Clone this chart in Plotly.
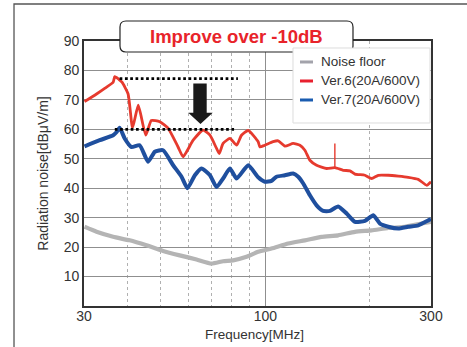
import plotly.graph_objects as go

# Noise floor (gray)
floor_freq = [30.1, 32.6, 36.4, 40.6, 45.4, 50.7, 56.6, 63.3, 69.9, 75.5, 80.7, 88.2, 95.3,
              104.1, 116.3, 129.9, 145.1, 162.0, 181.1, 202.3, 226.0, 252.4, 282.1, 300.0]
floor_db = [26.9, 25.2, 23.5, 22.3, 20.6, 18.7, 17.2, 15.8, 14.4, 15.2, 15.5, 16.7, 18.4,
            19.5, 21.2, 22.3, 23.5, 24.0, 25.2, 25.7, 26.5, 26.9, 28.0, 28.6]

# Ver.6 (red)
v6_freq = [30.1, 32.6, 34.5, 36.4, 36.8, 37.8, 38.6, 40.2, 41.4, 43.0, 45.2, 46.9, 49.6,
           52.4, 56.0, 57.9, 61.9, 66.1, 69.2, 72.3, 73.6, 75.5, 79.0, 82.6, 85.3, 89.2,
           95.3, 96.4, 99.6, 105.2, 108.8, 113.8, 120.2, 125.7, 129.9, 134.3, 140.4, 150.1,
           158.5, 167.6, 175.2, 181.1, 193.5, 202.3, 211.4, 226.0, 241.5,
           258.0, 275.7, 291.6, 300.0]
v6_db = [69.4, 72.0, 74.0, 76.0, 77.9, 77.0, 76.0, 72.0, 60.5, 68.2, 58.0, 63.0, 62.6,
         60.4, 54.0, 50.7, 56.3, 59.7, 58.0, 53.5, 51.8, 55.2, 56.9, 54.6, 58.0, 59.6,
         55.8, 54.0, 54.6, 55.8, 56.1, 54.3, 55.2, 54.6, 52.9, 49.5, 47.8, 46.7,
         47.0, 46.1, 45.9, 44.8, 44.4, 43.3, 44.4, 44.4, 44.1,
         43.7, 43.0, 41.0, 42.2]
# narrow spike on Ver.6
v6_spike_freq = [158.5, 158.5]
v6_spike_db = [47.0, 55.2]

# Ver.7 (blue)
v7_freq = [30.1, 33.3, 36.4, 37.2, 38.0, 39.3, 41.1, 43.4, 45.9, 48.0, 50.7, 54.2, 57.3,
           59.6, 62.6, 65.4, 69.2, 72.3, 75.5, 79.0, 82.6, 89.2, 95.3, 99.6, 104.1, 107.6,
           113.8, 120.2, 124.3, 128.5, 134.3, 140.4, 146.7, 153.4, 162.0, 171.4, 181.1,
           193.5, 204.5, 213.8, 226.0, 241.5, 258.0, 275.7, 294.7, 300.0]
v7_db = [54.2, 56.3, 58.0, 59.0, 60.5, 56.9, 54.0, 54.6, 49.0, 52.4, 52.9, 47.8, 43.9,
         40.0, 44.4, 46.7, 44.4, 40.4, 43.3, 46.7, 43.3, 47.8, 43.7, 42.2, 42.5, 43.9,
         44.4, 45.0, 43.9, 41.6, 37.6, 34.2, 32.3, 32.3, 33.8, 31.4, 28.6,
         28.9, 30.8, 28.0, 26.9, 26.3, 26.9, 27.4, 29.1, 29.5]

series_names = ["Noise floor", "Ver.6(20A/600V)", "Ver.7(20A/600V)"]
series_colors = ["#b4b4b4", "#e63a2e", "#1f4f9e"]
legend_colors = ["#a3a3ab", "#e8202e", "#1a5cb0"]

# Dotted reference levels (peak of Ver.6 / Ver.7)
ref_levels = [77.2, 60.0]
ref_start = [38.0, 36.8]
ref_end = [83.3, 81.2]

x_ticks = [30, 100, 300]
x_minor = [40, 50, 60, 70, 80, 90, 200]
y_ticks = [10, 20, 30, 40, 50, 60, 70, 80, 90]

FONT = "Arial, Liberation Sans, sans-serif"

fig = go.Figure()

widths = [4.2, 2.8, 4.0]
for name, fx, fy, color, w in zip(series_names,
                                  [floor_freq, v6_freq, v7_freq],
                                  [floor_db, v6_db, v7_db],
                                  series_colors, widths):
    fig.add_trace(go.Scatter(x=fx, y=fy, mode="lines", name=name, showlegend=False,
                             line=dict(color=color, width=w, shape="spline", smoothing=0.5)))
fig.add_trace(go.Scatter(x=v6_spike_freq, y=v6_spike_db, mode="lines", showlegend=False,
                         line=dict(color=series_colors[1], width=1.4)))

shapes = []
# dotted reference lines
for lvl, x0, x1 in zip(ref_levels, ref_start, ref_end):
    shapes.append(dict(type="line", xref="x", yref="y", x0=x0, x1=x1, y0=lvl, y1=lvl,
                       line=dict(color="black", width=2.7, dash="2.7px,2.6px"), layer="above"))

# down arrow (paper coords)
shapes.append(dict(type="path", xref="paper", yref="paper", fillcolor="#1a1a1a",
                   line=dict(color="#1a1a1a", width=0),
                   path="M 0.315 0.840 L 0.3536 0.840 L 0.3536 0.7294 L 0.3709 0.7294 "
                        "L 0.3357 0.6868 L 0.3006 0.7294 L 0.315 0.7294 Z"))

# outer frame (top + left)
shapes.append(dict(type="path", xref="paper", yref="paper",
                   path="M -0.2017 -0.2 L -0.2017 1.1396 L 1.2 1.1396",
                   line=dict(color="#555555", width=1.3)))

# title box with rounded corners
x0, x1, y0, y1 = 0.1037, 0.7752, 0.9585, 1.0755
rx, ry = 0.0173, 0.0226
shapes.append(dict(
    type="path", xref="paper", yref="paper", fillcolor="white",
    line=dict(color="#222222", width=1.2), layer="above",
    path=(f"M {x0+rx} {y1} L {x1-rx} {y1} Q {x1} {y1} {x1} {y1-ry} "
          f"L {x1} {y0+ry} Q {x1} {y0} {x1-rx} {y0} L {x0+rx} {y0} "
          f"Q {x0} {y0} {x0} {y0+ry} L {x0} {y1-ry} Q {x0} {y1} {x0+rx} {y1} Z")))

# legend box
shapes.append(dict(type="rect", xref="paper", yref="paper", x0=0.6023, x1=0.9971,
                   y0=0.6906, y1=0.9736, fillcolor="white",
                   line=dict(color="#dddddd", width=1), layer="above"))

annotations = [
    dict(text="Improve over -10dB", xref="paper", yref="paper", x=0.4395, y=1.017,
         showarrow=False, xanchor="center", yanchor="middle",
         font=dict(family=FONT, size=18.5, color="#e8232a", weight="bold")),
    # x-axis title placed by hand so it does not push the bottom margin
    dict(text="Frequency[MHz]", xref="paper", yref="paper", x=0.49, y=-0.1057,
         showarrow=False, xanchor="center", yanchor="middle",
         font=dict(family=FONT, size=13.5, color="#333333")),
]

row_y = [0.9208, 0.8491, 0.7774]
for name, color, ry_ in zip(series_names, legend_colors, row_y):
    shapes.append(dict(type="line", xref="paper", yref="paper", x0=0.6225, x1=0.66,
                       y0=ry_, y1=ry_, line=dict(color=color, width=3), layer="above"))
    annotations.append(dict(text=name, xref="paper", yref="paper", x=0.6772, y=ry_,
                            showarrow=False, xanchor="left", yanchor="middle",
                            font=dict(family=FONT, size=13.5, color="#333333")))

fig.update_layout(
    width=467, height=347,
    margin=dict(l=84, r=36, t=41, b=41),
    paper_bgcolor="white", plot_bgcolor="white",
    font=dict(family=FONT, color="#333333"),
    shapes=shapes, annotations=annotations,
)

fig.update_xaxes(
    type="log", range=[1.4771, 2.4771],
    tickvals=x_ticks, ticktext=[str(v) for v in x_ticks],
    tickfont=dict(size=14, color="#333333"), ticks="", ticklabelstandoff=-4,
    showgrid=True, gridcolor="#8f8f8f", gridwidth=1,
    minor=dict(tickvals=x_minor, showgrid=True, gridcolor="#b0b0b0", griddash="dot", gridwidth=1),
    showline=True, linecolor="#333333", linewidth=1.6, mirror=True,
    automargin=False, zeroline=False,
)
fig.update_yaxes(
    range=[0, 90], tickvals=y_ticks,
    tickfont=dict(size=14, color="#333333"), ticks="",
    showgrid=True, gridcolor="#8f8f8f", gridwidth=1,
    showline=True, linecolor="#333333", linewidth=1.6, mirror=True,
    title=dict(text="Radiation noise[dBμV/m]", font=dict(size=14, color="#333333"), standoff=12),
    zeroline=False,
)

# page body has a default 8px margin; drop it so the figure sits at the window origin
fig.write_html("out.html", config={"displayModeBar": False},
               post_script="document.body.style.margin='0';")
